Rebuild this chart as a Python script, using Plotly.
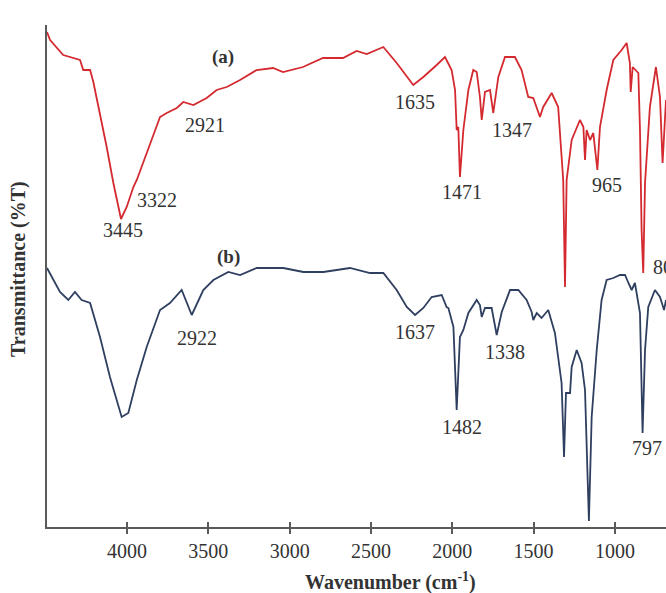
import plotly.graph_objects as go

# Spectrum (a) - red
wn_a = [4492, 4473, 4392, 4330, 4289, 4269, 4227, 4207, 4166, 4125, 4084, 4037, 4002, 3961, 3940,
        3879, 3797, 3756, 3694, 3654, 3592, 3510, 3449, 3387, 3305, 3203, 3102, 3041, 2918, 2795,
        2672, 2588, 2526, 2424, 2342, 2240, 2178, 2096, 2045, 2004, 1983, 1973, 1963, 1953, 1932,
        1901, 1871, 1850, 1830, 1819, 1799, 1768, 1748, 1717, 1676, 1615, 1574, 1533, 1502, 1461,
        1441, 1389, 1349, 1318, 1307, 1297, 1266, 1215, 1194, 1184, 1174, 1153, 1133, 1108, 1092,
        1051, 1010, 959, 928, 908, 903, 891, 856, 846, 836, 826, 815, 785, 748, 723, 707, 686]
t_a = [495, 487, 472, 469, 467, 457, 457, 445, 414, 380, 344, 308, 320, 340, 347,
       374, 410, 414, 419, 425, 422, 429, 437, 440, 447, 457, 459, 455, 460, 469,
       469, 476, 473, 480, 464, 442, 450, 462, 470, 457, 437, 397, 400, 350, 397,
       437, 457, 455, 430, 407, 435, 437, 414, 450, 470, 470, 457, 430, 429, 410,
       420, 434, 420, 347, 240, 347, 387, 407, 400, 367, 397, 387, 394, 357, 400,
       437, 467, 477, 484, 464, 435, 460, 454, 397, 297, 254, 344, 420, 460, 430, 364, 427]

# Spectrum (b) - blue
wn_b = [4492, 4453, 4412, 4361, 4320, 4279, 4227, 4166, 4105, 4033, 3992, 3940, 3879, 3797, 3736,
        3664, 3602, 3531, 3469, 3377, 3305, 3203, 3039, 2916, 2793, 2629, 2506, 2424, 2342, 2280,
        2229, 2178, 2127, 2065, 2035, 2024, 1993, 1973, 1953, 1932, 1901, 1850, 1830, 1819, 1799,
        1758, 1727, 1696, 1645, 1594, 1543, 1512, 1502, 1481, 1451, 1410, 1369, 1328, 1313, 1301,
        1276, 1266, 1235, 1205, 1184, 1160, 1143, 1112, 1082, 1051, 1010, 969, 938, 917, 897,
        877, 846, 830, 815, 795, 754, 723, 698, 686]
t_b = [259, 247, 235, 227, 235, 227, 224, 190, 150, 110, 114, 147, 180, 217, 224,
       237, 212, 237, 247, 255, 252, 259, 259, 255, 255, 259, 254, 254, 237, 220,
       212, 219, 230, 232, 220, 219, 200, 117, 190, 197, 214, 227, 222, 210, 219,
       219, 192, 215, 237, 237, 227, 215, 207, 214, 209, 217, 194, 144, 70, 134,
       134, 160, 177, 164, 137, 6, 110, 177, 227, 247, 249, 252, 252, 244, 237,
       244, 214, 94, 177, 220, 237, 230, 217, 227]

x_ticks = [4000, 3500, 3000, 2500, 2000, 1500, 1000]

# Peak labels
labels_a = ["(a)", "2921", "3322", "3445", "1635", "1471", "1347", "965"]
lab_a_x = [3410, 3520, 3816, 4025, 2229, 1940, 1633, 1049]
lab_a_y = [470, 402, 327, 297, 425, 335, 397, 342]
labels_b = ["(b)", "2922", "1637", "1338", "1482", "797"]
lab_b_x = [3379, 3570, 2229, 1674, 1940, 803]
lab_b_y = [270, 189, 195, 175, 100, 79]
edge_label = "806"
edge_x, edge_y = 778, 260

XR = [4492, 686]
YR = [0, 502]
FONT = "Liberation Serif, Times New Roman, serif"
AX = "#5a5a5a"
TXT = "#333333"

fig = go.Figure()
fig.add_trace(go.Scatter(x=wn_a, y=t_a, mode="lines", line=dict(color="#d42a2f", width=1.8),
                         showlegend=False, hoverinfo="skip"))
fig.add_trace(go.Scatter(x=wn_b, y=t_b, mode="lines", line=dict(color="#2e3f5f", width=1.8),
                         showlegend=False, hoverinfo="skip"))
# invisible trace to carry the inner tick axis
fig.add_trace(go.Scatter(x=[x_ticks[0]], y=[t_a[0]], xaxis="x2", yaxis="y", mode="markers",
                         marker=dict(opacity=0), showlegend=False, hoverinfo="skip"))

pw, ph = 666 - 47, 593 - 25 - 66
ann = []
for txt, x, y in zip(labels_a + labels_b, lab_a_x + lab_b_x, lab_a_y + lab_b_y):
    bold = txt.startswith("(")
    ann.append(dict(x=x, y=y, xref="x", yref="y", text=f"<b>{txt}</b>" if bold else txt,
                    showarrow=False, font=dict(family=FONT, size=19 if bold else 20, color=TXT)))
ann.append(dict(x=edge_x, y=edge_y, xref="x", yref="y", text=edge_label, xanchor="left",
                showarrow=False, font=dict(family=FONT, size=20, color=TXT)))
ann.append(dict(x=(390 - 47) / pw, y=(527 - 581) / ph, xref="paper", yref="paper",
                xanchor="center", yanchor="middle",
                text="<b>Wavenumber (cm<sup>-1</sup>)</b>",
                showarrow=False, font=dict(family=FONT, size=20, color=TXT)))
ann.append(dict(x=(18 - 47) / pw, y=(527 - 269) / ph, xref="paper", yref="paper",
                xanchor="center", yanchor="middle",
                text="<b>Transmittance (%T)</b>", textangle=-90, showarrow=False,
                font=dict(family=FONT, size=20, color=TXT)))

fig.update_layout(
    width=666, height=593,
    margin=dict(l=47, r=0, t=25, b=66),
    paper_bgcolor="white", plot_bgcolor="white",
    xaxis=dict(range=XR, tickvals=x_ticks, ticks="outside", ticklen=5, tickwidth=2, tickcolor=AX,
               showline=True, linecolor=AX, linewidth=2, showgrid=False, zeroline=False,
               tickfont=dict(family=FONT, size=20, color=TXT)),
    xaxis2=dict(range=XR, overlaying="x", anchor="y", side="bottom", tickvals=x_ticks,
                ticks="inside", ticklen=5, tickwidth=2, tickcolor=AX, showticklabels=False,
                showline=False, showgrid=False, zeroline=False),
    yaxis=dict(range=YR, showline=True, linecolor=AX, linewidth=2, showticklabels=False,
               ticks="", showgrid=False, zeroline=False),
    annotations=ann,
)
fig.write_html("out.html")
